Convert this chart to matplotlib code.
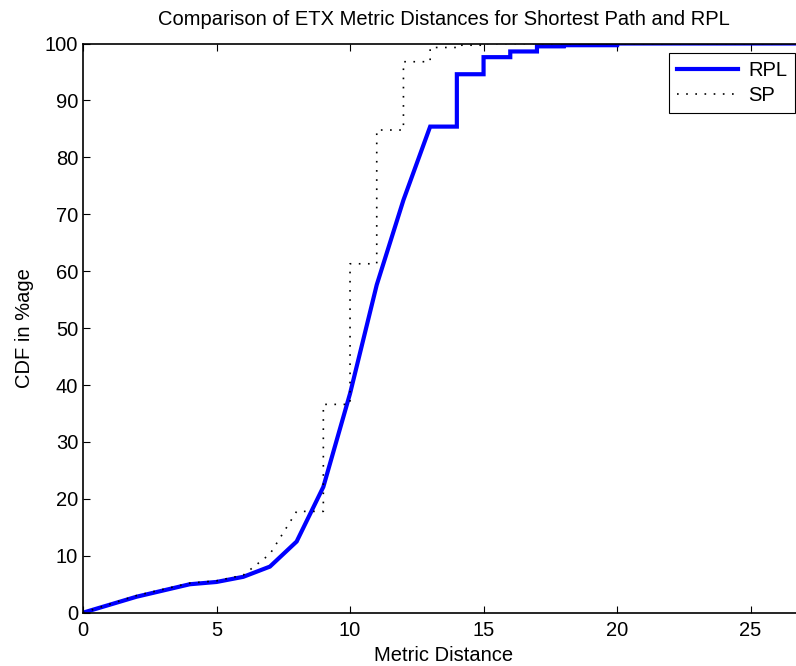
import numpy as np
import matplotlib
matplotlib.use("Agg")
import matplotlib.pyplot as plt

plt.rcParams['font.family'] = ['Liberation Sans', 'DejaVu Sans']

# CDF of metric distance
rpl_x = [0, 2, 4, 5, 6, 7, 8, 9, 10, 11, 12, 13, 14, 14, 15, 15, 16, 16, 17, 17, 18, 18, 20, 20, 27]
rpl_y = [0, 2.8, 5.0, 5.4, 6.3, 8.1, 12.5, 22.1, 38.5, 57.6, 72.5, 85.4, 85.4, 94.6, 94.6, 97.6,
         97.6, 98.6, 98.6, 99.5, 99.5, 99.7, 99.7, 100, 100]

sp_x = [0, 2, 4, 5, 6, 7, 8, 9, 9, 10, 10, 11, 11, 12, 12, 13, 13, 14, 14, 15, 15, 27]
sp_y = [0, 3.0, 5.2, 5.6, 6.6, 10.3, 17.8, 17.8, 36.6, 36.6, 61.3, 61.3, 84.8, 84.8, 96.8, 96.8,
        99.3, 99.3, 99.7, 99.7, 100, 100]

fs = 14.5
fig = plt.figure(figsize=(7.96, 6.66), dpi=100)
ax = fig.add_axes([83 / 796, 1 - 612.7 / 666, (804 - 83) / 796, (612.7 - 43.5) / 666])

ax.plot(rpl_x, rpl_y, color='#0000ff', lw=3, label='RPL', solid_joinstyle='miter')
ax.plot(sp_x, sp_y, color='black', lw=1.2, linestyle=(0, (1, 4.5)), label='SP')

ax.set_xlim(0, 27)
ax.set_ylim(0, 100)
ax.set_xticks([0, 5, 10, 15, 20, 25])
ax.set_yticks(np.arange(0, 101, 10))
ax.tick_params(direction='in', top=True, right=True, labelsize=fs, length=5, width=0.8)
ax.tick_params(axis='x', pad=6)
for s in ax.spines.values():
    s.set_linewidth(1.2)

ax.set_title('Comparison of ETX Metric Distances for Shortest Path and RPL', fontsize=fs, pad=13)
ax.set_xlabel('Metric Distance', fontsize=fs, labelpad=4)
ax.set_ylabel('CDF in %age', fontsize=fs, labelpad=8)

leg = ax.legend(loc='upper right', fontsize=fs, fancybox=False, framealpha=1,
                edgecolor='black', borderaxespad=0.45, handlelength=3.0,
                handletextpad=0.5, borderpad=0.4, labelspacing=0.3)
leg.get_frame().set_linewidth(0.8)

fig.savefig('out.png', dpi=100)
